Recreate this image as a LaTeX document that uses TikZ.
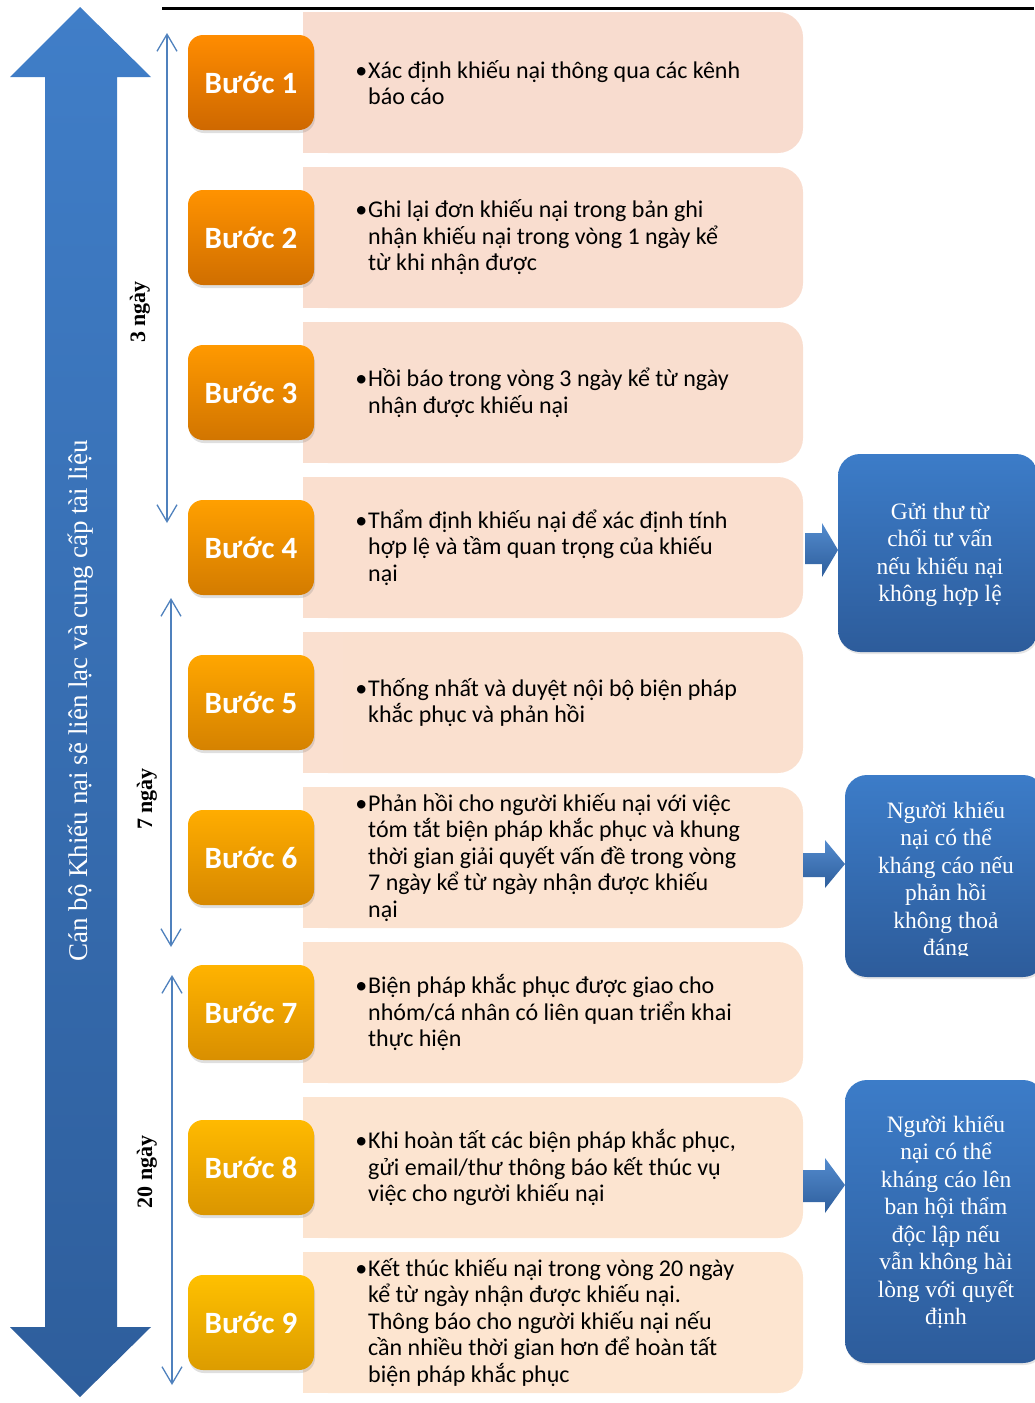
\documentclass[tikz,border=0pt]{standalone}
\usepackage{fontspec}
\setmainfont{Liberation Serif}
\newfontfamily\calibrifont{Carlito}
\usetikzlibrary{arrows.meta,shadows}
\definecolor{arrowtop}{RGB}{64,126,200}
\definecolor{arrowbot}{RGB}{46,94,156}
\definecolor{thinblue}{RGB}{79,129,189}
\definecolor{stepTopA}{RGB}{255,140,0}
\definecolor{stepTopB}{RGB}{255,192,0}
\definecolor{stepBotA}{RGB}{206,104,0}
\definecolor{stepBotB}{RGB}{220,156,0}
\definecolor{peachA}{RGB}{248,220,207}
\definecolor{peachB}{RGB}{253,229,208}
\definecolor{boxtop}{RGB}{60,124,200}
\definecolor{boxbot}{RGB}{45,92,155}
\tikzset{
  stepbox/.style={rounded corners=15pt, minimum width=126pt, minimum height=95pt,
    inner sep=0pt, text=white, font=\calibrifont\bfseries\fontsize{31}{31}\selectfont,
    drop shadow={opacity=0.25, shadow xshift=1pt, shadow yshift=-3pt}},
  peachbox/.style={rounded corners=25pt, minimum width=500pt, minimum height=141pt, inner sep=0pt},
  peachtext/.style={anchor=west, align=left, inner sep=0pt,
    font=\calibrifont\fontsize{24}{26.5}\selectfont},
  bluebox/.style={rounded corners=22pt, inner sep=0pt, top color=boxtop, bottom color=boxbot,
    drop shadow={opacity=0.2, shadow xshift=1pt, shadow yshift=-2pt}},
  bluetext/.style={align=center, text=white, inner sep=0pt, font=\fontsize{23.5}{27.5}\selectfont},
  thinarrow/.style={draw=thinblue, line width=1.3pt,
    {Straight Barb[length=17pt,width=20pt]}-{Straight Barb[length=17pt,width=20pt]}},
  daylabel/.style={rotate=90, font=\bfseries\fontsize{22}{22}\selectfont},
  blockarrow/.style={top color=arrowtop!90!white, bottom color=arrowbot},
}
\begin{document}
\begin{tikzpicture}[x=1pt,y=-1pt]
\useasboundingbox (0,0) rectangle (1034,1403);
% top rule
\coordinate (ruleL) at (162,8);
\coordinate (ruleR) at (1034,8);
\draw[line width=3pt] (ruleL) -- (ruleR);
% big double arrow
\shade[top color=arrowtop, bottom color=arrowbot]
  (80,7) -- (151,77) -- (117,77) -- (117,1327) -- (151,1327) -- (80,1397)
  -- (10,1327) -- (45,1327) -- (45,77) -- (10,77) -- cycle;
\node[rotate=90, text=white, font=\fontsize{27}{27}\selectfont] (bigtxt) at (81,701)
  {Cán bộ Khiếu nại sẽ liên lạc và cung cấp tài liệu};
% thin day arrows
\coordinate (a3t) at (167,33);  \coordinate (a3b) at (167,523);
\coordinate (a7t) at (171,598); \coordinate (a7b) at (171,947);
\coordinate (a20t) at (172,975); \coordinate (a20b) at (172,1385);
\draw[thinarrow] (a3t) -- (a3b);
\draw[thinarrow] (a7t) -- (a7b);
\draw[thinarrow] (a20t) -- (a20b);
\node[daylabel] (l3) at (140,312) {3 ngày};
\node[daylabel] (l7) at (147,799) {7 ngày};
\node[daylabel] (l20) at (147,1172) {20 ngày};
% rows
\foreach \i/\txt in {
 1/{Xác định khiếu nại thông qua các kênh\\báo cáo},
 2/{Ghi lại đơn khiếu nại trong bản ghi\\nhận khiếu nại trong vòng 1 ngày kể\\từ khi nhận được},
 3/{Hồi báo trong vòng 3 ngày kể từ ngày\\nhận được khiếu nại},
 4/{Thẩm định khiếu nại để xác định tính\\hợp lệ và tầm quan trọng của khiếu\\nại},
 5/{Thống nhất và duyệt nội bộ biện pháp\\khắc phục và phản hồi},
 6/{Phản hồi cho người khiếu nại với việc\\tóm tắt biện pháp khắc phục và khung\\thời gian giải quyết vấn đề trong vòng\\7 ngày kể từ ngày nhận được khiếu\\nại},
 7/{Biện pháp khắc phục được giao cho\\nhóm/cá nhân có liên quan triển khai\\thực hiện},
 8/{Khi hoàn tất các biện pháp khắc phục,\\gửi email/thư thông báo kết thúc vụ\\việc cho người khiếu nại},
 9/{Kết thúc khiếu nại trong vòng 20 ngày\\kể từ ngày nhận được khiếu nại.\\Thông báo cho người khiếu nại nếu\\cần nhiều thời gian hơn để hoàn tất\\biện pháp khắc phục}}
{
  \pgfmathsetmacro\t{(9-\i)/8*100}
  \pgfmathsetmacro\cy{82.5+155*(\i-1)}
  \colorlet{pc}{peachA!\t!peachB}
  \colorlet{st}{stepTopA!\t!stepTopB}
  \colorlet{sb}{stepBotA!\t!stepBotB}
  \node[peachbox, fill=pc] (p\i) at (553,\cy) {};
  \fill[pc] (p\i.north west) rectangle ([xshift=40pt]p\i.south west);
  \node[peachtext] (t\i) at (368,\cy) {\llap{•\hspace{1pt}}\txt};
  \node[stepbox, top color=st, bottom color=sb] (s\i) at (251,\cy) {Bước \i};
}
% right-hand blue boxes
\node[bluebox, minimum width=200pt, minimum height=198pt] (b1) at (938,553) {};
\node[bluetext] (bt1) at (940,555) {Gửi thư từ\\chối tư vấn\\nếu khiếu nại\\không hợp lệ};
\node[bluebox, minimum width=200pt, minimum height=202pt] (b2) at (945,876) {};
\begin{scope}
  \clip (845,775) rectangle (1040,955);
  \node[bluetext] (bt2) at (946,881) {Người khiếu\\nại có thể\\kháng cáo nếu\\phản hồi\\không thoả\\đáng};
\end{scope}
\node[bluebox, minimum width=200pt, minimum height=283pt] (b3) at (945,1221.5) {};
\node[bluetext] (bt3) at (946,1222) {Người khiếu\\nại có thể\\kháng cáo lên\\ban hội thẩm\\độc lập nếu\\vẫn không hài\\lòng với quyết\\định};
% block arrows
\shade[blockarrow] (805,533) -- (822,533) -- (822,523) -- (838,550) -- (822,577) -- (822,564) -- (805,564) -- cycle;
\shade[blockarrow] (803,853) -- (825,853) -- (825,840) -- (845,864) -- (825,888) -- (825,877) -- (803,877) -- cycle;
\shade[blockarrow] (803,1170) -- (825,1170) -- (825,1158) -- (845,1185) -- (825,1213) -- (825,1202) -- (803,1202) -- cycle;
\end{tikzpicture}
\end{document}
